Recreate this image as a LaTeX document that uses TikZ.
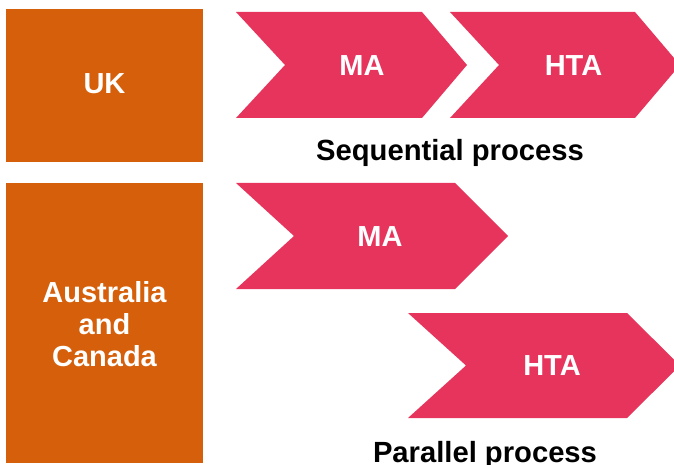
\documentclass[tikz,border=0pt]{standalone}
\usepackage{fontspec}
\setmainfont{Liberation Sans}
\definecolor{boxorange}{HTML}{D55F0A}
\definecolor{chevpink}{HTML}{E6345C}
\begin{document}
\begin{tikzpicture}[x=1pt,y=-1pt,
  label/.style={text=white,font=\fontsize{29}{32}\selectfont\bfseries,inner sep=0pt,align=center},
  caption/.style={text=black,font=\fontsize{29.2}{32}\selectfont\bfseries,inner sep=0pt,anchor=base},
  chev/.style={fill=chevpink},
  country/.style={fill=boxorange}]
\useasboundingbox (0,0) rectangle (674,465);
\clip (0,0) rectangle (674,465);
% country boxes
\fill[country] (6,9) rectangle (203,162);
\fill[country] (6,183) rectangle (203,463);
\node[label] (uk) at (104.5,84) {UK};
\node[label] (ac) at (104.5,324) {Australia\\and\\Canada};
% sequential chevrons
\fill[chev] (236,12) -- (422,12) -- (467,65) -- (422,118) -- (236,118) -- (285,65) -- cycle;
\fill[chev] (450,12) -- (635,12) -- (680,65) -- (635,118) -- (450,118) -- (499,65) -- cycle;
\node[label] (ma1) at (362,66) {MA};
\node[label] (hta1) at (573.5,66) {HTA};
\node[caption] (seq) at (450,160.5) {Sequential process};
% parallel chevrons
\fill[chev] (236,183) -- (455,183) -- (508,236) -- (455,289) -- (236,289) -- (294,236) -- cycle;
\fill[chev] (408,313) -- (627,313) -- (680,365.5) -- (627,418) -- (408,418) -- (466,365.5) -- cycle;
\node[label] (ma2) at (380,237) {MA};
\node[label] (hta2) at (552,366) {HTA};
\node[caption] (par) at (485,462.5) {Parallel process};
\end{tikzpicture}
\end{document}
